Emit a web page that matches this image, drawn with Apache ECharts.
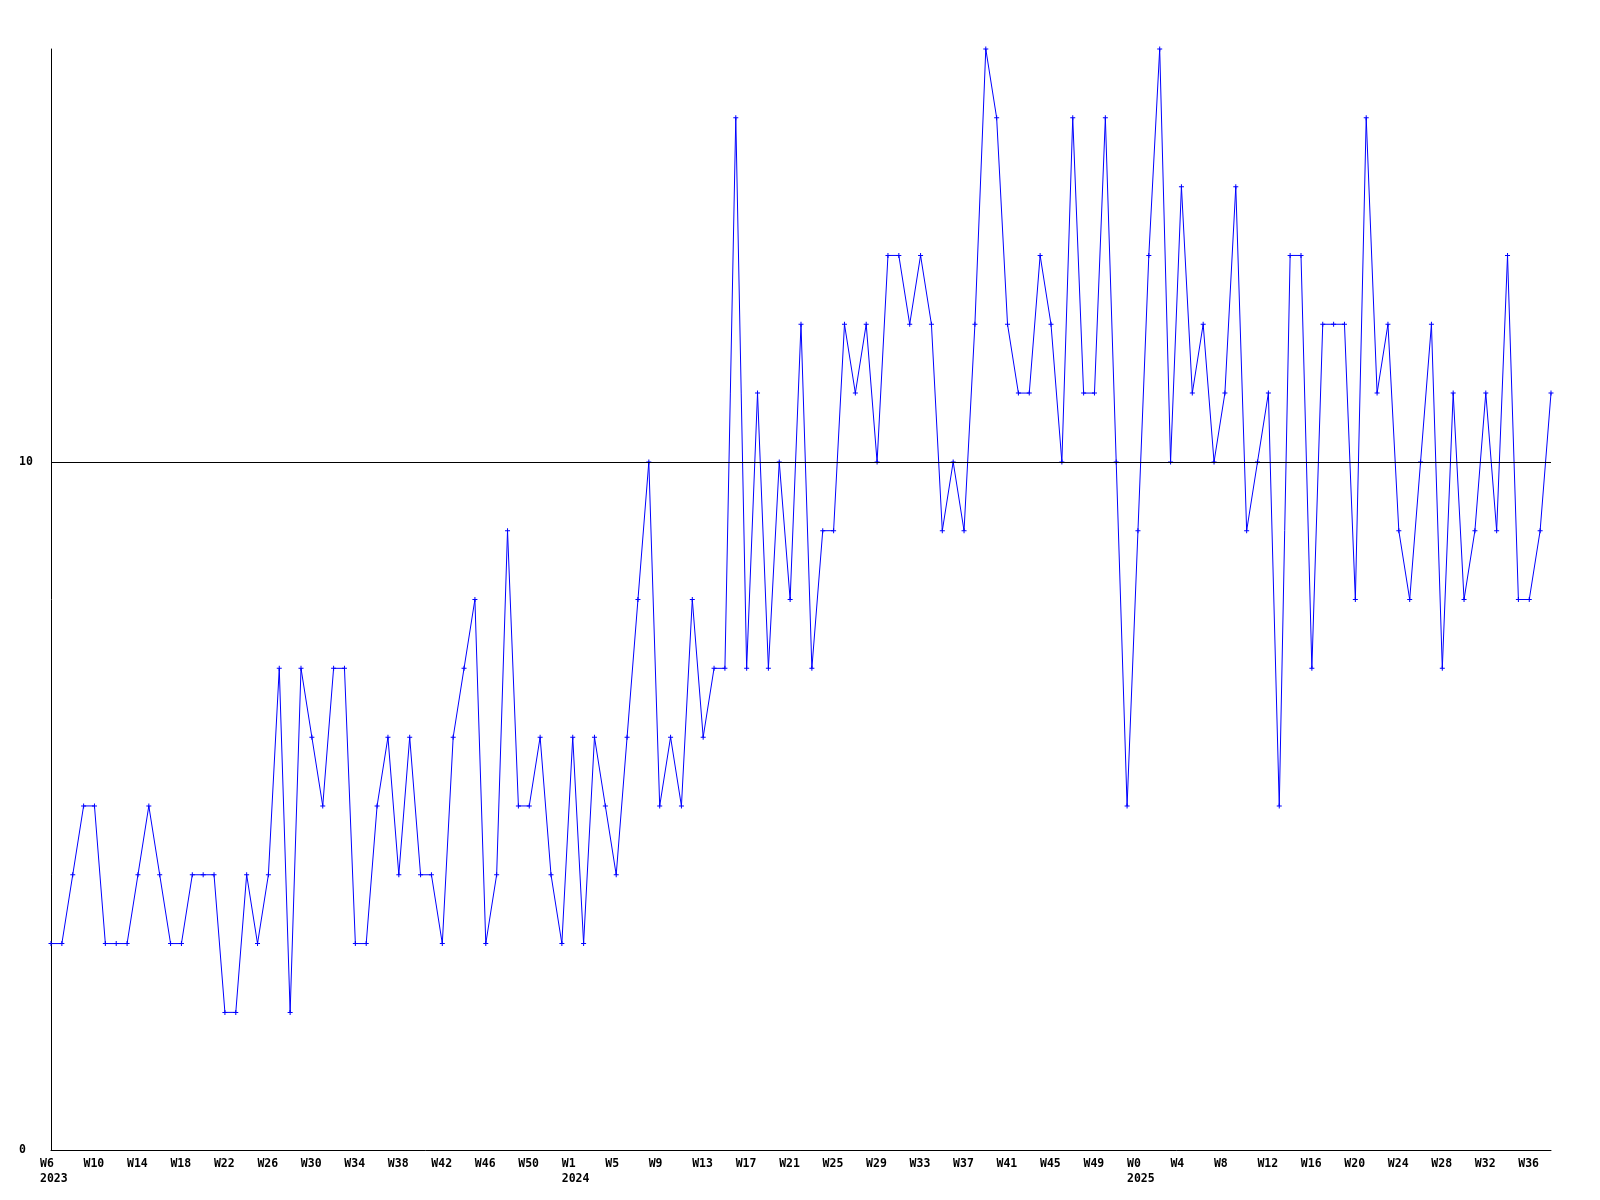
<!DOCTYPE html>
<html>
<head>
<meta charset="utf-8">
<script src="https://cdn.jsdelivr.net/npm/echarts@6/dist/echarts.min.js"></script>
<style>
  html, body { margin: 0; padding: 0; background: #fff; }
  #chart { width: 1600px; height: 1200px; }
</style>
</head>
<body>
<div id="chart"></div>
<script>
// weekly counts, one array per year
const years = ['2023', '2024', '2025'];
const firstWeek = [6, 1, 0];
const counts2023 = [3, 3, 4, 5, 5, 3, 3, 3, 4, 5, 4, 3, 3, 4, 4, 4, 2, 2, 4, 3, 4, 7, 2, 7,
  6, 5, 7, 7, 3, 3, 5, 6, 4, 6, 4, 4, 3, 6, 7, 8, 3, 4, 9, 5, 5, 6, 4, 3];
const counts2024 = [6, 3, 6, 5, 4, 6, 8, 10, 5, 6, 5, 8, 6, 7, 7, 15, 7, 11, 7, 10,
  8, 12, 7, 9, 9, 12, 11, 12, 10, 13, 13, 12, 13, 12, 9, 10, 9, 12, 16, 15,
  12, 11, 11, 13, 12, 10, 15, 11, 11, 15, 10, 5];
const counts2025 = [9, 13, 16, 10, 14, 11, 12, 10, 11, 14, 9, 10, 11, 5, 13, 13, 7, 12, 12, 12,
  8, 15, 11, 12, 9, 8, 10, 12, 7, 11, 8, 9, 11, 9, 13, 8, 8, 9, 11];
const yTicks = [0, 10];
const refLine = 10;

const perYear = [counts2023, counts2024, counts2025];
const categories = [];
const values = [];
perYear.forEach((arr, y) => {
  arr.forEach((v, i) => {
    categories.push(years[y] + '|W' + (firstWeek[y] + i));
    values.push(v);
  });
});

const font = 'DejaVu Sans Mono';
const chart = echarts.init(document.getElementById('chart'));
chart.setOption({
  animation: false,
  backgroundColor: '#fff',
  grid: { left: 51, right: 49, top: 49, bottom: 50, containLabel: false },
  xAxis: {
    type: 'category',
    data: categories,
    boundaryGap: false,
    axisLine: { lineStyle: { color: '#000', width: 1 } },
    axisTick: { show: false },
    splitLine: { show: false },
    axisLabel: {
      interval: 3,
      margin: 7,
      align: 'left',
      padding: [0, 0, 0, -11],
      color: '#000',
      fontFamily: font,
      fontWeight: 'bold',
      fontSize: 11.5,
      lineHeight: 15,
      formatter: (val, idx) => {
        const [yr, wk] = val.split('|');
        const prev = idx > 0 ? categories[idx - 1].split('|')[0] : null;
        return prev !== yr ? wk + '\n' + yr : wk;
      }
    }
  },
  yAxis: {
    type: 'value',
    min: 0,
    max: 16,
    interval: 10,
    axisLine: { show: true, lineStyle: { color: '#000', width: 1 } },
    axisTick: { show: false },
    splitLine: { show: false },
    axisLabel: {
      showMaxLabel: false,
      align: 'left',
      margin: 32,
      color: '#000',
      fontFamily: font,
      fontWeight: 'bold',
      fontSize: 11.5,
      formatter: v => (yTicks.includes(v) ? String(v) : '')
    }
  },
  series: [{
    type: 'line',
    data: values,
    color: '#0000ff',
    lineStyle: { width: 1, color: '#0000ff' },
    // small plus-shaped marker
    symbol: 'path://M2,0h1v2h2v1h-2v2h-1v-2h-2v-1h2z',
    symbolSize: [5, 5],
    itemStyle: { color: '#0000ff' },
    markLine: {
      silent: true,
      symbol: 'none',
      label: { show: false },
      lineStyle: { color: '#000', width: 1, type: 'solid' },
      data: [{ yAxis: refLine }]
    }
  }]
});
</script>
</body>
</html>
